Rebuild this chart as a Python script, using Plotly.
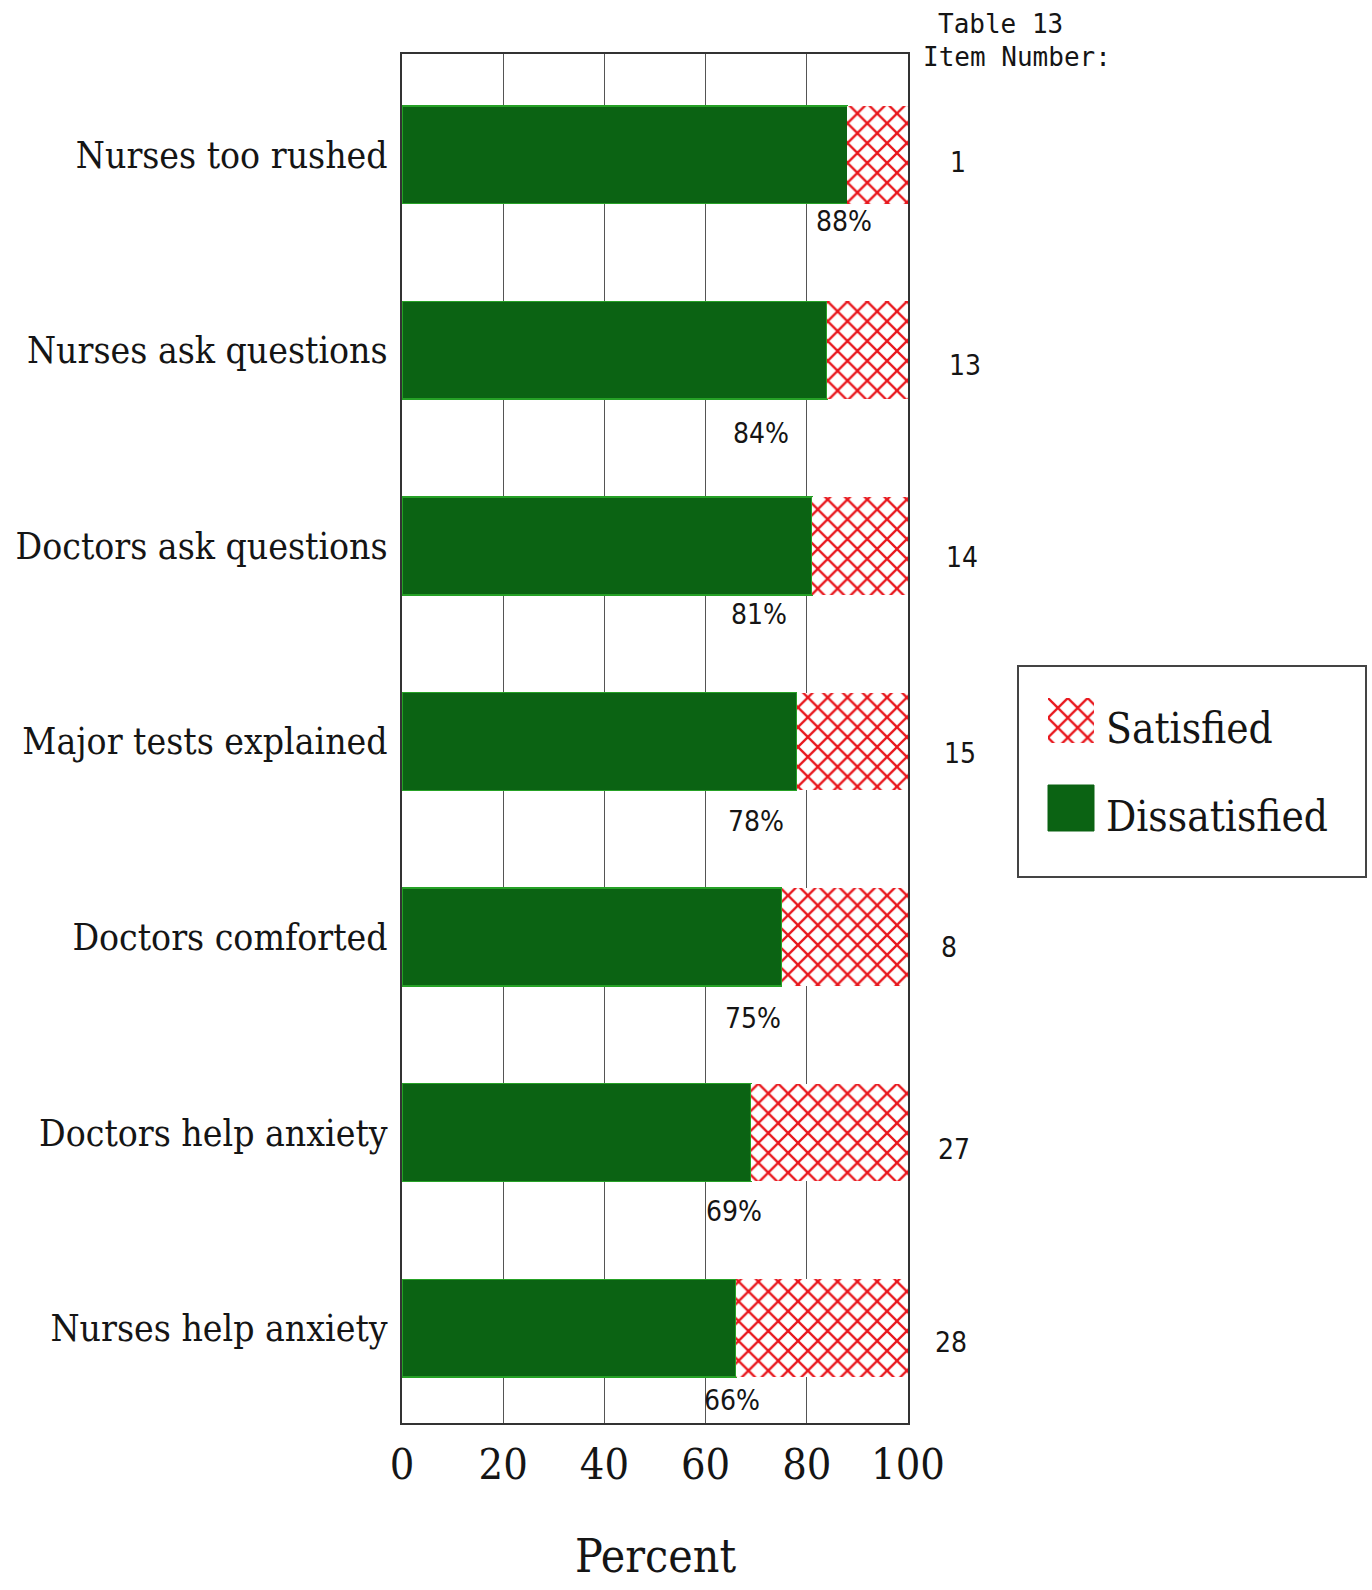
import plotly.graph_objects as go

# ---------------- data ----------------
categories = ["Nurses too rushed", "Nurses ask questions", "Doctors ask questions",
              "Major tests explained", "Doctors comforted", "Doctors help anxiety",
              "Nurses help anxiety"]
dissatisfied = [88, 84, 81, 78, 75, 69, 66]
satisfied = [12, 16, 19, 22, 25, 31, 34]
pct_labels = ["88%", "84%", "81%", "78%", "75%", "69%", "66%"]
item_numbers = ["1", "13", "14", "15", "8", "27", "28"]
x_ticks = [0, 20, 40, 60, 80, 100]

# ---------------- layout helpers ----------------
W, H = 1372, 1590
def fx(px):
    return px / W
def fy(py):
    return 1 - py / H

# label placement (layout only)
pct_label_pos = [87.3, 70.9, 70.5, 69.9, 69.3, 65.7, 65.3]
pct_label_shift = [-67, -83, -69, -80, -81, -79, -72]
item_label_px = [958, 965, 962, 960, 949, 954, 951]
item_label_shift = [-8, -15, -12, -12, -10, -17, -14]

GREEN = "#0b6313"
EDGE = "#26a126"
RED = "#e8161c"
SERIF = "DejaVu Serif Condensed, DejaVu Serif, serif"
NARROW = "Liberation Sans Narrow, DejaVu Sans Condensed, Arial Narrow, sans-serif"
MONO = "DejaVu Sans Mono, Liberation Mono, monospace"
TXT = "#151515"

fig = go.Figure()
fig.add_trace(go.Bar(
    y=categories, x=dissatisfied, orientation="h", name="Dissatisfied",
    marker=dict(color=GREEN, line=dict(color=EDGE, width=1.5)),
    showlegend=False, hoverinfo="skip"))
fig.add_trace(go.Bar(
    y=categories, x=satisfied, orientation="h", name="Satisfied",
    marker=dict(color="white", line=dict(width=0),
                pattern=dict(shape="x", fgcolor=RED, bgcolor="white",
                             size=14, solidity=0.3, fillmode="replace")),
    showlegend=False, hoverinfo="skip"))

# legend swatch for the hatched series
fig.add_trace(go.Scatter(
    x=[0, 1, 1, 0, 0], y=[0, 0, 1, 1, 0], xaxis="x2", yaxis="y2",
    mode="lines", fill="toself", line=dict(width=0, color=RED),
    fillcolor="white",
    fillpattern=dict(shape="x", fgcolor=RED, bgcolor="white", size=14, solidity=0.3),
    showlegend=False, hoverinfo="skip"))

annotations = []
for cat, lab, pos, sh in zip(categories, pct_labels, pct_label_pos, pct_label_shift):
    annotations.append(dict(x=pos, y=cat, xref="x", yref="y", text=lab,
                            showarrow=False, yshift=sh, xanchor="center", yanchor="middle",
                            font=dict(family=NARROW, size=28, color=TXT)))
for cat, num, px, sh in zip(categories, item_numbers, item_label_px, item_label_shift):
    annotations.append(dict(x=fx(px), y=cat, xref="paper", yref="y", text=num,
                            showarrow=False, yshift=sh, xanchor="center", yanchor="middle",
                            font=dict(family=NARROW, size=28, color=TXT)))
annotations += [
    dict(x=fx(936), y=fy(24), xref="paper", yref="paper", text="Table 13",
         showarrow=False, xanchor="left", yanchor="middle",
         font=dict(family=MONO, size=26, color=TXT)),
    dict(x=fx(921), y=fy(57), xref="paper", yref="paper", text="Item Number:",
         showarrow=False, xanchor="left", yanchor="middle",
         font=dict(family=MONO, size=26, color=TXT)),
    dict(x=fx(655), y=fy(1556), xref="paper", yref="paper", text="Percent",
         showarrow=False, xanchor="center", yanchor="middle",
         font=dict(family=SERIF, size=46, color=TXT)),
    dict(x=fx(1104), y=fy(728), xref="paper", yref="paper", text="Satisfied",
         showarrow=False, xanchor="left", yanchor="middle",
         font=dict(family=SERIF, size=42, color=TXT)),
    dict(x=fx(1104), y=fy(816), xref="paper", yref="paper", text="Dissatisfied",
         showarrow=False, xanchor="left", yanchor="middle",
         font=dict(family=SERIF, size=42, color=TXT)),
]

shapes = [
    dict(type="rect", xref="paper", yref="paper",
         x0=fx(1018), x1=fx(1366), y0=fy(877), y1=fy(666),
         line=dict(color="#444", width=2), fillcolor="rgba(0,0,0,0)"),
    dict(type="rect", xref="paper", yref="paper",
         x0=fx(1048), x1=fx(1094), y0=fy(831), y1=fy(785),
         line=dict(color=GREEN, width=1), fillcolor=GREEN),
]

fig.update_layout(
    template="none",
    width=W, height=H,
    margin=dict(l=0, r=0, t=0, b=0),
    paper_bgcolor="white", plot_bgcolor="white",
    barmode="stack", bargap=0.5,
    showlegend=False,
    xaxis=dict(domain=[fx(402), fx(908)], range=[0, 100], tickvals=x_ticks,
               showgrid=True, gridcolor="#555", gridwidth=1, zeroline=False,
               showline=True, mirror=True, linecolor="#333", linewidth=2,
               ticks="", ticklabelstandoff=2, automargin=False, fixedrange=True,
               tickfont=dict(family=SERIF, size=43, color=TXT), anchor="y"),
    yaxis=dict(domain=[fy(1423), fy(54)], type="category", categoryorder="array",
               categoryarray=categories, range=[6.485, -0.515],
               showgrid=False, zeroline=False, showline=True, mirror=True,
               linecolor="#333", linewidth=2, ticks="", ticklabelstandoff=5,
               automargin=False, fixedrange=True,
               tickfont=dict(family=SERIF, size=37, color=TXT), anchor="x"),
    xaxis2=dict(domain=[fx(1048), fx(1094)], range=[0, 1], visible=False,
                anchor="y2", fixedrange=True),
    yaxis2=dict(domain=[fy(743), fy(698)], range=[0, 1], visible=False,
                anchor="x2", fixedrange=True),
    annotations=annotations,
    shapes=shapes,
)

fig.write_html("out.html")
